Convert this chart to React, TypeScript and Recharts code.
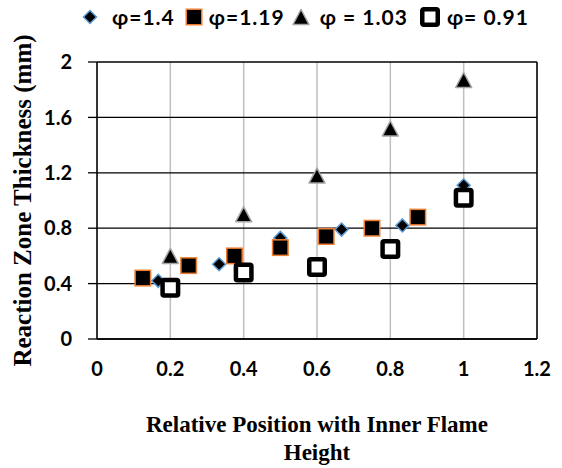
import {
  ScatterChart,
  Scatter,
  XAxis,
  YAxis,
  CartesianGrid,
  ReferenceLine,
} from 'recharts';

// measured reaction zone thickness (mm) vs. relative position in the inner flame
const phi140X = [0.167, 0.333, 0.5, 0.667, 0.833, 1];
const phi140Y = [0.42, 0.54, 0.73, 0.79, 0.82, 1.11];

const phi119X = [0.125, 0.25, 0.375, 0.5, 0.625, 0.75, 0.875];
const phi119Y = [0.44, 0.53, 0.6, 0.66, 0.74, 0.8, 0.88];

const phi103X = [0.2, 0.4, 0.6, 0.8, 1];
const phi103Y = [0.6, 0.9, 1.18, 1.52, 1.87];

const phi091X = [0.2, 0.4, 0.6, 0.8, 1];
const phi091Y = [0.37, 0.48, 0.52, 0.65, 1.02];

const xTicks = [0, 0.2, 0.4, 0.6, 0.8, 1, 1.2];
const yTicks = [0, 0.4, 0.8, 1.2, 1.6, 2];

const seriesNames = ['φ=1.4', 'φ=1.19', 'φ = 1.03', 'φ= 0.91'];

const toPoints = (xs: number[], ys: number[]) => xs.map((x, i) => ({ x, y: ys[i] }));

const TICK_FONT = 'Lato, "Open Sans", sans-serif';
const TITLE_FONT = '"Liberation Serif", "Times New Roman", serif';

type MarkerProps = { cx?: number; cy?: number };

function Diamond({ cx = 0, cy = 0 }: MarkerProps) {
  const r = 6.5;
  return (
    <polygon
      points={`${cx},${cy - r} ${cx + r},${cy} ${cx},${cy + r} ${cx - r},${cy}`}
      fill="#000"
      stroke="#5b9bd5"
      strokeWidth={1.5}
    />
  );
}

function FilledSquare({ cx = 0, cy = 0 }: MarkerProps) {
  const s = 15.5;
  return (
    <rect x={cx - s / 2} y={cy - s / 2} width={s} height={s} fill="#000" stroke="#ed7d31" strokeWidth={1.5} />
  );
}

function Triangle({ cx = 0, cy = 0 }: MarkerProps) {
  const w = 16;
  const h = 15;
  return (
    <polygon
      points={`${cx},${cy - h / 2} ${cx + w / 2},${cy + h / 2} ${cx - w / 2},${cy + h / 2}`}
      fill="#000"
      stroke="#a5a5a5"
      strokeWidth={1.5}
      strokeLinejoin="round"
    />
  );
}

function OpenSquare({ cx = 0, cy = 0 }: MarkerProps) {
  const s = 15.5;
  return (
    <rect
      x={cx - s / 2}
      y={cy - s / 2}
      width={s}
      height={s}
      rx={1.5}
      fill="#fff"
      stroke="#000"
      strokeWidth={4.5}
    />
  );
}

const legendMarkers = [
  <Diamond cx={8} cy={8} />,
  <FilledSquare cx={8} cy={8} />,
  <Triangle cx={8} cy={8} />,
  <OpenSquare cx={10} cy={10} />,
];

// gap between a legend marker and its text, then the gap before the next entry
const legendTextGap = [14, 7, 11, 7];
const legendEntryGap = [11, 8, 12, 0];

function LegendRow() {
  return (
    <div
      style={{
        position: 'absolute',
        left: 82,
        top: 4,
        display: 'flex',
        alignItems: 'center',
        fontFamily: TICK_FONT,
        fontWeight: 700,
        fontSize: 21,
        letterSpacing: 1,
        color: '#000',
        whiteSpace: 'nowrap',
      }}
    >
      {seriesNames.map((name, i) => (
        <div key={name} style={{ display: 'flex', alignItems: 'center', marginRight: legendEntryGap[i] }}>
          <svg width={i === 3 ? 20 : 16} height={i === 3 ? 20 : 16} style={{ overflow: 'visible' }}>
            {legendMarkers[i]}
          </svg>
          <span style={{ marginLeft: legendTextGap[i] }}>{name}</span>
        </div>
      ))}
    </div>
  );
}

function XTitle(props: any) {
  const { viewBox } = props;
  const cx = viewBox.x + viewBox.width / 2;
  return (
    <text x={cx} y={viewBox.y + 93} textAnchor="middle" fontFamily={TITLE_FONT} fontWeight={700} fontSize={23} fill="#000">
      <tspan x={cx}>Relative Position with Inner Flame</tspan>
      <tspan x={cx} dy={28}>Height</tspan>
    </text>
  );
}

function YTitle(props: any) {
  const { viewBox } = props;
  const cy = viewBox.y + viewBox.height / 2;
  const x = 31;
  return (
    <text
      x={x}
      y={cy}
      transform={`rotate(-90, ${x}, ${cy})`}
      textAnchor="middle"
      fontFamily={TITLE_FONT}
      fontWeight={700}
      fontSize={25}
      fill="#000"
    >
      Reaction Zone Thickness (mm)
    </text>
  );
}

const tickStyle = { fill: '#000', fontSize: 20, fontWeight: 700, fontFamily: TICK_FONT };

export default function App() {
  return (
    <div style={{ position: 'absolute', left: 0, top: 0, width: 562, height: 468, background: '#fff' }}>
      <ScatterChart width={562} height={468} margin={{ top: 62, right: 25, bottom: 89, left: 0 }}>
        <CartesianGrid horizontal={false} stroke="#bfbfbf" strokeWidth={1.5} />
        <CartesianGrid vertical={false} stroke="#000" strokeWidth={1.3} />
        <XAxis
          type="number"
          dataKey="x"
          domain={[0, 1.2]}
          ticks={xTicks}
          tickLine={false}
          tickSize={0}
          tickMargin={23}
          height={40}
          axisLine={{ stroke: '#000', strokeWidth: 1.5 }}
          tick={tickStyle}
          label={<XTitle />}
        />
        <YAxis
          type="number"
          dataKey="y"
          domain={[0, 2]}
          ticks={yTicks}
          width={97}
          tickSize={9}
          tickMargin={16}
          tickLine={{ stroke: '#000', strokeWidth: 1.3 }}
          axisLine={{ stroke: '#000', strokeWidth: 1.5 }}
          tick={tickStyle}
          label={<YTitle />}
        />
        <ReferenceLine x={1.2} stroke="#000" strokeWidth={1.5} />
        <Scatter name={seriesNames[0]} data={toPoints(phi140X, phi140Y)} shape={(p: any) => <Diamond cx={p.cx} cy={p.cy} />} isAnimationActive={false} />
        <Scatter name={seriesNames[1]} data={toPoints(phi119X, phi119Y)} shape={(p: any) => <FilledSquare cx={p.cx} cy={p.cy} />} isAnimationActive={false} />
        <Scatter name={seriesNames[2]} data={toPoints(phi103X, phi103Y)} shape={(p: any) => <Triangle cx={p.cx} cy={p.cy} />} isAnimationActive={false} />
        <Scatter name={seriesNames[3]} data={toPoints(phi091X, phi091Y)} shape={(p: any) => <OpenSquare cx={p.cx} cy={p.cy} />} isAnimationActive={false} />
      </ScatterChart>
      <LegendRow />
    </div>
  );
}
